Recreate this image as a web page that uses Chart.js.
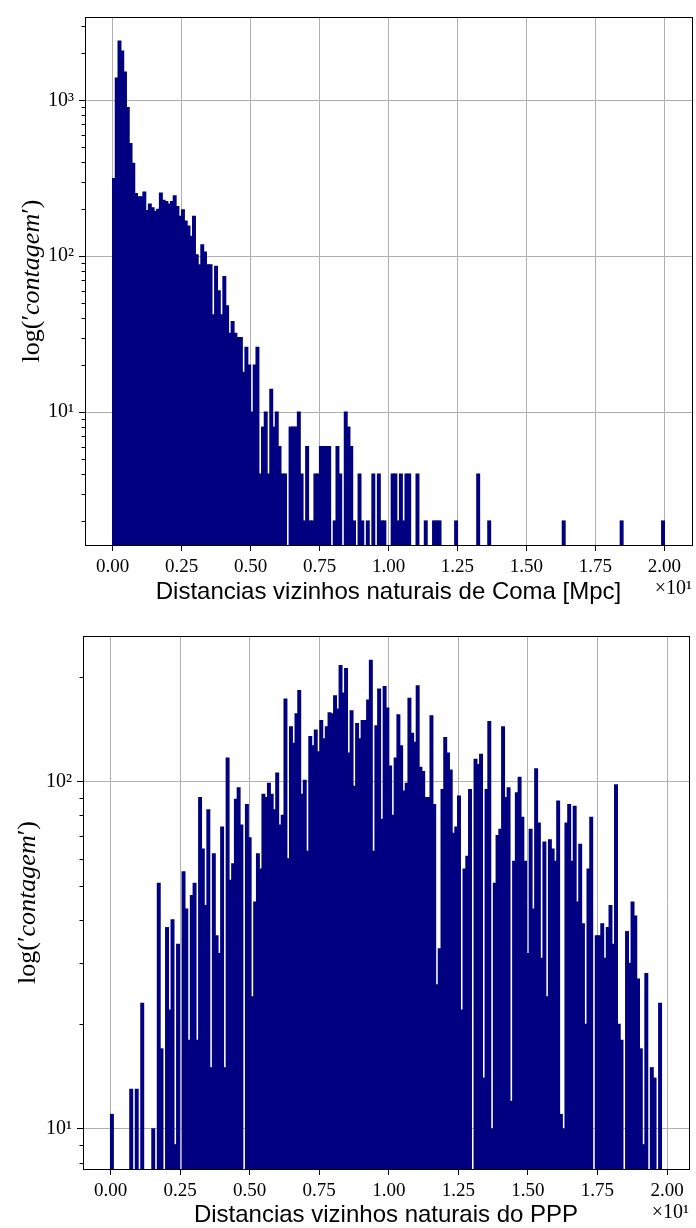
<!DOCTYPE html>
<html>
<head>
<meta charset="utf-8">
<script src="https://cdn.jsdelivr.net/npm/chart.js@4.4.0/dist/chart.umd.min.js"></script>
<style>
  html, body { margin: 0; padding: 0; background: #fff; }
  #wrap { position: relative; width: 696px; height: 1228px; }
  canvas { position: absolute; left: 0; }
</style>
</head>
<body>
<div id="wrap">
  <canvas id="coma" width="696" height="610" style="top:0"></canvas>
  <canvas id="ppp" width="696" height="618" style="top:610px"></canvas>
</div>
<script>
// x ticks (distances, in units of 10 Mpc)
const xTickValues = [0, 0.25, 0.5, 0.75, 1.0, 1.25, 1.5, 1.75, 2.0];

// Coma: 200 bins from 0 to 2.0
const comaBinWidth = 0.01;
const comaCounts = [
  314, 1390, 2400, 2070, 1518, 896, 528, 394, 252, 240,
  240, 258, 196, 216, 204, 194, 200, 254, 228, 224,
  216, 224, 244, 208, 180, 198, 168, 156, 134, 180,
  102, 88, 118, 106, 88, 88, 42, 86, 60, 42,
  74, 48, 32, 38, 32, 30, 30, 18, 26, 20,
  10, 20, 26, 4, 8, 10, 4, 14, 8, 10,
  6, 4, 4, 0, 8, 8, 8, 10, 4, 2,
  6, 2, 2, 4, 4, 6, 6, 6, 6, 0,
  2, 6, 4, 0, 10, 8, 6, 2, 0, 4,
  2, 0, 2, 0, 4, 0, 4, 2, 2, 0,
  0, 4, 4, 2, 4, 2, 4, 4, 0, 0,
  4, 0, 0, 2, 0, 0, 2, 2, 2, 0,
  0, 0, 0, 0, 2, 0, 0, 0, 0, 0,
  0, 0, 4, 0, 0, 0, 2, 0, 0, 0,
  0, 0, 0, 0, 0, 0, 0, 0, 0, 0,
  0, 0, 0, 0, 0, 0, 0, 0, 0, 0,
  0, 0, 0, 2, 0, 0, 0, 0, 0, 0,
  0, 0, 0, 0, 0, 0, 0, 0, 0, 0,
  0, 0, 0, 0, 2, 0, 0, 0, 0, 0,
  0, 0, 0, 0, 0, 0, 0, 0, 0, 2
];

// PPP: 200 bins from 0 to 1.98
const pppBinWidth = 0.0099;
const pppCounts = [
  11, 0, 0, 0, 0, 0, 0, 13, 0, 13,
  0, 23, 0, 0, 0, 10, 0, 51, 17, 0,
  38, 22, 40, 9, 34, 0, 55, 43, 18, 47,
  51, 18, 90, 64, 44, 83, 15, 62, 36, 32,
  74, 15, 117, 52, 58, 89, 96, 75, 0, 86,
  69, 24, 45, 62, 56, 92, 90, 99, 92, 83,
  106, 75, 80, 173, 60, 144, 129, 157, 183, 92,
  101, 63, 135, 127, 141, 122, 150, 133, 144, 158,
  157, 177, 162, 216, 180, 212, 121, 160, 97, 147,
  133, 150, 150, 172, 224, 63, 145, 185, 78, 188,
  163, 111, 80, 117, 156, 127, 94, 99, 174, 138,
  130, 189, 110, 107, 90, 90, 155, 86, 26, 33,
  95, 134, 121, 108, 71, 74, 91, 22, 56, 61,
  95, 0, 116, 112, 120, 14, 95, 149, 10, 51,
  70, 73, 144, 90, 96, 12, 59, 93, 103, 79,
  59, 32, 73, 43, 109, 76, 31, 67, 24, 68,
  64, 59, 88, 11, 10, 76, 86, 59, 85, 45,
  66, 39, 20, 56, 79, 0, 36, 36, 39, 31,
  38, 44, 34, 98, 20, 18, 0, 37, 30, 45,
  41, 27, 17, 9, 28, 0, 15, 14, 0, 23
];

const decadeLabels = {1: '10⁰', 10: '10¹', 100: '10²', 1000: '10³', 10000: '10⁴'};

function isDecade(v) {
  return Math.abs(Math.log10(v) - Math.round(Math.log10(v))) < 1e-9;
}

function histPoints(counts, w) {
  return counts.map((c, i) => ({x: (i + 0.5) * w, y: c > 0 ? c : null}));
}

// matplotlib-like autoscale: 5% margins
function logLimits(counts) {
  const pos = counts.filter(c => c > 0);
  const lo = Math.log10(Math.min(...pos));
  const hi = Math.log10(Math.max(...pos));
  const m = 0.05 * (hi - lo);
  return [Math.pow(10, lo - m), Math.pow(10, hi + m)];
}

function logTicks(min, max) {
  const out = [];
  for (let d = 1; d <= 10000; d *= 10) {
    for (let k = 1; k <= 9; k++) {
      const v = k * d;
      if (v >= min && v <= max) out.push(v);
    }
  }
  return out;
}

const serif = '"Liberation Serif", "DejaVu Serif", serif';

const mplFrame = {
  id: 'mplFrame',
  afterDraw(chart, args, opts) {
    const {ctx, chartArea: a} = chart;
    const ys = chart.scales.y;
    ctx.save();
    ctx.strokeStyle = '#000';
    ctx.lineWidth = 1;
    // minor ticks
    ys.ticks.forEach(t => {
      if (isDecade(t.value)) return;
      const py = Math.round(ys.getPixelForValue(t.value)) + 0.5;
      ctx.beginPath();
      ctx.moveTo(a.left - 3.5, py);
      ctx.lineTo(a.left, py);
      ctx.stroke();
    });
    // spines
    ctx.strokeRect(Math.round(a.left) + 0.5, Math.round(a.top) + 0.5,
      Math.round(a.right - a.left), Math.round(a.bottom - a.top));

    // y label: log('contagem')
    const fs = opts.yTitleSize;
    const parts = [
      ['log(', fs + 'px ' + serif],
      ['′', fs + 'px ' + serif],
      ['contagem', 'italic ' + fs + 'px ' + serif],
      ['′', fs + 'px ' + serif],
      [')', fs + 'px ' + serif]
    ];
    ctx.translate(opts.yTitleX, (a.top + a.bottom) / 2);
    ctx.rotate(-Math.PI / 2);
    let total = 0;
    parts.forEach(p => { ctx.font = p[1]; total += ctx.measureText(p[0]).width; });
    let x = -total / 2;
    ctx.fillStyle = '#000';
    ctx.textBaseline = 'middle';
    parts.forEach(p => {
      ctx.font = p[1];
      ctx.fillText(p[0], x, 0);
      x += ctx.measureText(p[0]).width;
    });
    ctx.restore();

    // offset text of the x axis
    ctx.save();
    ctx.fillStyle = '#000';
    ctx.font = '20px ' + serif;
    ctx.textAlign = 'right';
    ctx.textBaseline = 'middle';
    ctx.fillText('×10¹', a.right, a.bottom + opts.offsetDy);
    ctx.restore();
  }
};

function makeHist(id, counts, binWidth, xTitle, box) {
  const yLim = logLimits(counts);
  const xSpan = counts.length * binWidth;
  const yTicks = logTicks(yLim[0], yLim[1]);
  const canvas = document.getElementById(id);
  return new Chart(canvas, {
    type: 'bar',
    data: {
      datasets: [{
        data: histPoints(counts, binWidth),
        backgroundColor: '#000080',
        borderWidth: 0,
        barPercentage: 1,
        categoryPercentage: 1,
        inflateAmount: 0.6,
        grouped: false
      }]
    },
    options: {
      responsive: false,
      animation: false,
      devicePixelRatio: 1,
      layout: {padding: {left: 0, top: box.top, right: canvas.width - box.right, bottom: 0}},
      plugins: {
        legend: {display: false},
        tooltip: {enabled: false},
        mplFrame: {yTitleX: box.yTitleX, offsetDy: box.offsetDy, yTitleSize: 26}
      },
      scales: {
        x: {
          type: 'linear',
          min: -0.05 * xSpan,
          max: 1.05 * xSpan,
          offset: false,
          z: 1,
          afterBuildTicks: s => { s.ticks = xTickValues.map(v => ({value: v})); },
          afterFit: s => { s.height = canvas.height - box.bottom; },
          border: {display: false},
          grid: {offset: false, color: '#b0b0b0', lineWidth: 1, tickColor: '#000', tickLength: 6},
          ticks: {
            padding: 5, maxRotation: 0, autoSkip: false, color: '#000',
            font: {family: serif, size: 19},
            callback: v => v.toFixed(2)
          },
          title: {
            display: true, text: xTitle, color: '#000',
            font: {family: '"Liberation Sans", Arial, sans-serif', size: 24, lineHeight: 1},
            padding: {top: 0, bottom: box.titlePad}
          }
        },
        y: {
          type: 'logarithmic',
          min: yLim[0],
          max: yLim[1],
          z: 1,
          afterBuildTicks: s => { s.ticks = yTicks.map(v => ({value: v})); },
          afterFit: s => { s.width = box.left; },
          border: {display: false},
          grid: {
            color: c => (c.tick && isDecade(c.tick.value)) ? '#b0b0b0' : 'rgba(0,0,0,0)',
            tickColor: c => (c.tick && isDecade(c.tick.value)) ? '#000' : 'rgba(0,0,0,0)',
            lineWidth: 1,
            tickLength: 6
          },
          ticks: {
            padding: 5, autoSkip: false, color: '#000',
            font: {family: serif, size: 20},
            callback: v => isDecade(v) ? decadeLabels[Math.round(v)] : ''
          }
        }
      }
    },
    plugins: [mplFrame]
  });
}

makeHist('coma', comaCounts, comaBinWidth, 'Distancias vizinhos naturais de Coma [Mpc]',
  {left: 85, right: 692, top: 11, bottom: 545, yTitleX: 32, offsetDy: 44, titlePad: 6});
makeHist('ppp', pppCounts, pppBinWidth, 'Distancias vizinhos naturais do PPP',
  {left: 83, right: 689, top: 26, bottom: 559, yTitleX: 28, offsetDy: 44, titlePad: 1});
</script>
</body>
</html>
